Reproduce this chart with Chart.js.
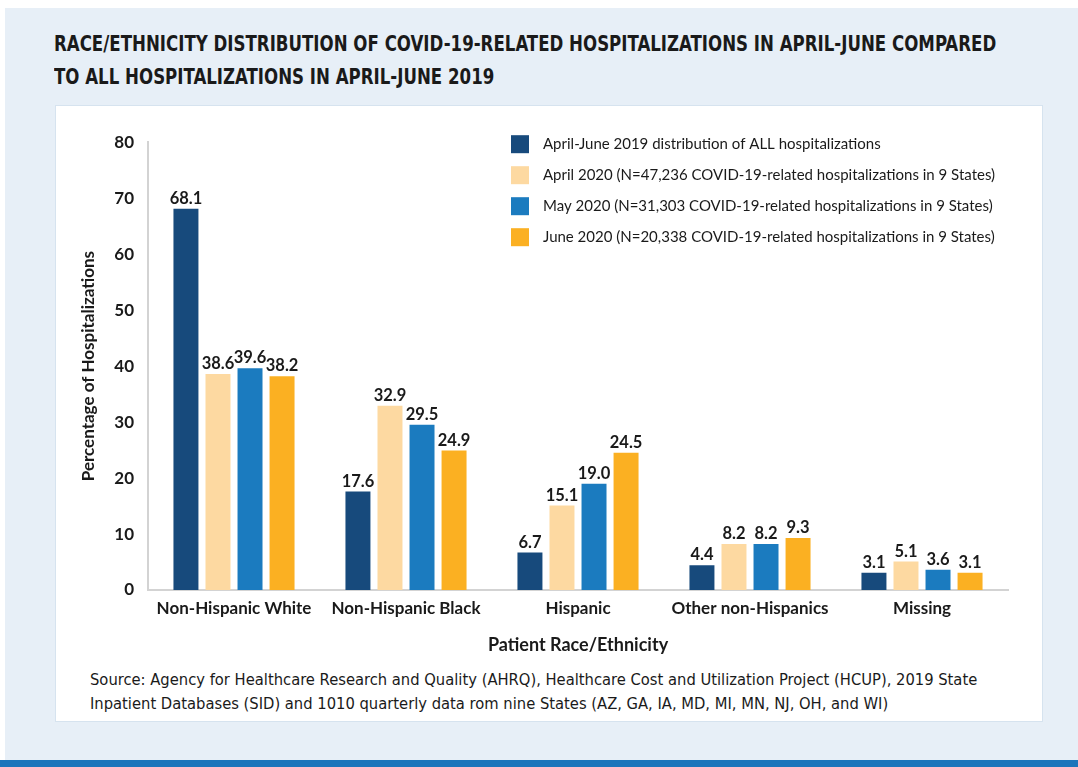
<!DOCTYPE html>
<html>
<head>
<meta charset="utf-8">
<script src="https://cdn.jsdelivr.net/npm/chart.js@4.4.1/dist/chart.umd.min.js"></script>
<style>
  html, body { margin: 0; padding: 0; background: #fff; }
  #page { position: relative; width: 1078px; height: 767px; overflow: hidden; background: #fff; }
  #bg { position: absolute; left: 5px; top: 8px; width: 1073px; height: 752px; background: #e7eff7; }
  #bar { position: absolute; left: 0; top: 760px; width: 1078px; height: 7px; background: #1b75bb; }
  #title { position: absolute; left: 54px; top: 27px; white-space: nowrap; transform: scaleX(0.84); transform-origin: left top; font-family: "DejaVu Sans Condensed", "DejaVu Sans"; font-stretch: condensed; font-weight: bold; font-size: 22px; line-height: 33px; color: #1a1a1a; }
  #card { position: absolute; left: 55px; top: 105px; width: 988px; height: 617px; background: #fff; border: 1px solid #d6e3ef; box-sizing: border-box; }
  #wrap { position: absolute; left: 74px; top: 118px; width: 946px; height: 542px; }
  #source { position: absolute; left: 90px; top: 668px; white-space: nowrap; font-family: "DejaVu Sans Condensed", "DejaVu Sans"; font-stretch: condensed; font-size: 16.4px; line-height: 24px; color: #1a1a1a; }
</style>
</head>
<body>
<div id="page">
  <div id="bg"></div>
  <div id="bar"></div>
  <div id="title">RACE/ETHNICITY DISTRIBUTION OF COVID-19-RELATED HOSPITALIZATIONS IN APRIL-JUNE COMPARED<br>TO ALL HOSPITALIZATIONS IN APRIL-JUNE 2019</div>
  <div id="card"></div>
  <div id="wrap"><canvas id="chart"></canvas></div>
  <div id="source">Source: Agency for Healthcare Research and Quality (AHRQ), Healthcare Cost and Utilization Project (HCUP), 2019 State<br>Inpatient Databases (SID) and 1010 quarterly data rom nine States (AZ, GA, IA, MD, MI, MN, NJ, OH, and WI)</div>
</div>
<script>
// categories and series
const categories = ["Non-Hispanic White", "Non-Hispanic Black", "Hispanic", "Other non-Hispanics", "Missing"];
const seriesNames = [
    "April-June 2019 distribution of ALL hospitalizations",
    "April 2020 (N=47,236 COVID-19-related hospitalizations in 9 States)",
    "May 2020 (N=31,303 COVID-19-related hospitalizations in 9 States)",
    "June 2020 (N=20,338 COVID-19-related hospitalizations in 9 States)"
];
const all2019 = [68.1, 17.6, 6.7, 4.4, 3.1];
const april2020 = [38.6, 32.9, 15.1, 8.2, 5.1];
const may2020 = [39.6, 29.5, 19.0, 8.2, 3.6];
const june2020 = [38.2, 24.9, 24.5, 9.3, 3.1];
const yTicks = [0, 10, 20, 30, 40, 50, 60, 70, 80];
const colors = ["#174a7c", "#fdd9a1", "#1b7bbf", "#fbb022"];

const FONT = "Lato, 'Open Sans', sans-serif";

// ✅ bar value labels
const valueLabels = {
    id: "valueLabels",
    afterDatasetsDraw(chart) {
        const ctx = chart.ctx;
        ctx.save();
        ctx.font = "bold 16.5px " + FONT;
        ctx.fillStyle = "#1a1a1a";
        ctx.textAlign = "center";
        ctx.textBaseline = "bottom";
        chart.data.datasets.forEach((ds, i) => {
            chart.getDatasetMeta(i).data.forEach((bar, j) => {
                ctx.fillText(ds.data[j].toFixed(1), bar.x, bar.y - 2);
            });
        });
        ctx.restore();
    }
};

// ✅ legend inside the plot, top right
const innerLegend = {
    id: "innerLegend",
    afterDraw(chart) {
        const ctx = chart.ctx;
        const area = chart.chartArea;
        const x = area.left + 363;
        ctx.save();
        ctx.font = "15px " + FONT;
        ctx.textBaseline = "middle";
        chart.data.datasets.forEach((ds, i) => {
            const cy = area.top + 2 + i * 31;
            ctx.fillStyle = ds.backgroundColor;
            ctx.fillRect(x, cy - 9, 18, 18);
            ctx.fillStyle = "#1a1a1a";
            ctx.fillText(ds.label, x + 32, cy);
        });
        ctx.restore();
    }
};

const seriesData = [all2019, april2020, may2020, june2020];

new Chart(document.getElementById("chart"), {
    type: "bar",
    data: {
        labels: categories,
        datasets: seriesData.map((d, i) => ({
            label: seriesNames[i],
            data: d,
            backgroundColor: colors[i],
            categoryPercentage: 0.745,
            barPercentage: 0.78
        }))
    },
    options: {
        responsive: true,
        maintainAspectRatio: false,
        animation: false,
        layout: { padding: { top: 14, right: 12 } },
        plugins: {
            legend: { display: false },
            tooltip: { enabled: false }
        },
        scales: {
            x: {
                grid: { display: false, drawTicks: false },
                border: { color: "#d3d3d3", width: 2 },
                ticks: { color: "#1a1a1a", font: { family: FONT, size: 17, weight: "bold" }, padding: 8, maxRotation: 0 },
                title: { display: true, text: "Patient Race/Ethnicity", color: "#1a1a1a", font: { family: FONT, size: 18, weight: "bold" }, padding: { top: 6 } },
                afterFit(scale) { scale.height = 70; }
            },
            y: {
                min: 0,
                max: 80,
                afterBuildTicks(scale) { scale.ticks = yTicks.map(v => ({ value: v })); },
                grid: { display: false, drawTicks: false },
                border: { color: "#d3d3d3", width: 2 },
                ticks: { color: "#1a1a1a", font: { family: FONT, size: 17, weight: "bold" }, padding: 14 },
                title: { display: true, text: "Percentage of Hospitalizations", color: "#1a1a1a", font: { family: FONT, size: 17, weight: "bold" }, padding: { bottom: 8 } },
                afterFit(scale) { scale.width = 74; }
            }
        }
    },
    plugins: [valueLabels, innerLegend]
});
</script>
</body>
</html>
